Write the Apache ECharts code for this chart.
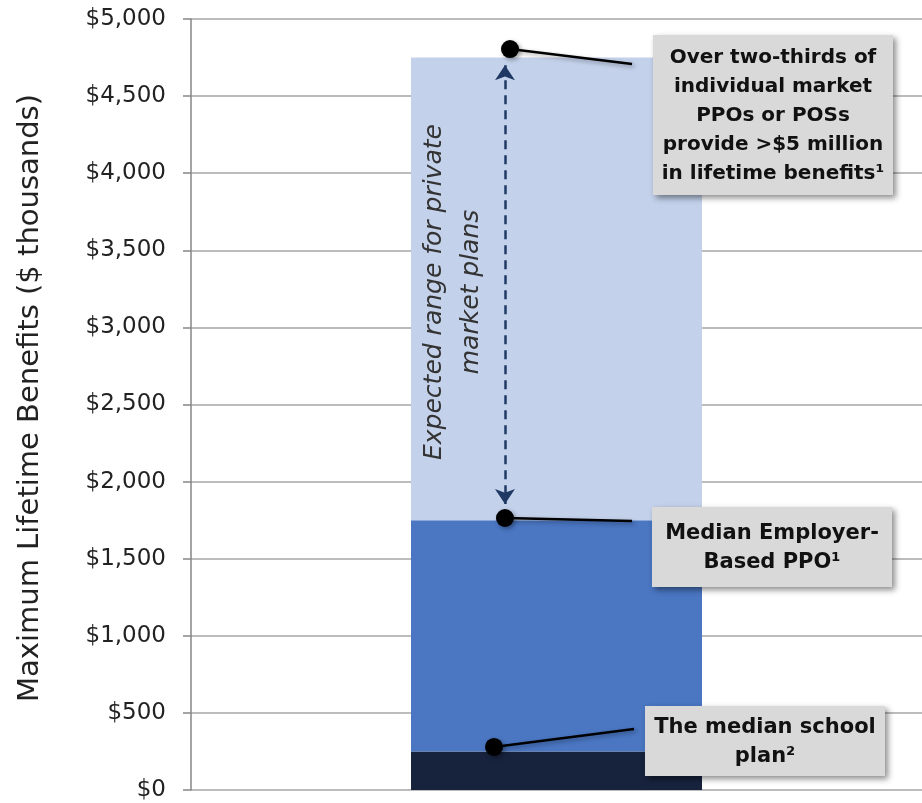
<!DOCTYPE html>
<html><head><meta charset="utf-8">
<script src="https://cdn.jsdelivr.net/npm/echarts@6/dist/echarts.min.js"></script>
<style>html,body{margin:0;padding:0;background:#fff}#c{width:922px;height:803px}</style>
</head><body><div id="c"></div>
<script>
// ---- data ----
const categories = [''];
const schoolPlan = [250];          // $0 – $250k
const employerPPO = [1500];        // $250k – $1,750k
const privateRange = [3000];       // $1,750k – $4,750k
const yTicks = [0, 500, 1000, 1500, 2000, 2500, 3000, 3500, 4000, 4500, 5000];
// annotation anchor points [x fraction of plot, value]
const dots = [[0.4364, 4805], [0.4295, 1764], [0.4145, 279]];
const leaderEnds = [[0.6033, 4708], [0.6033, 1745], [0.606, 396]];
const arrowRange = [[0.4295, 4700], [0.4295, 1855]];
const boxTexts = [
  'Over two-thirds of\nindividual market\nPPOs or POSs\nprovide >$5 million\nin lifetime benefits¹',
  'Median Employer-\nBased PPO¹',
  'The median school\nplan²'
];
const rangeText = 'Expected range for private\nmarket plans';
const yName = 'Maximum Lifetime Benefits ($ thousands)';

const FONT = '"DejaVu Sans", sans-serif';
const chart = echarts.init(document.getElementById('c'));

const boxes = [
  {x: 653, y: 35, w: 240, h: 160, fs: 20},
  {x: 652, y: 507, w: 240, h: 80, fs: 21},
  {x: 645, y: 706, w: 240, h: 70, fs: 21}
];
const graphics = [];
boxes.forEach((b, i) => {
  graphics.push({type: 'rect', z: 100, shape: {x: b.x, y: b.y, width: b.w, height: b.h},
    style: {fill: '#D9D9D9', shadowBlur: 6, shadowOffsetX: 3, shadowOffsetY: 3, shadowColor: 'rgba(0,0,0,0.45)'}});
  graphics.push({type: 'text', z: 101, x: b.x + b.w / 2, y: b.y + b.h / 2 + 1,
    style: {text: boxTexts[i], font: 'bold ' + b.fs + 'px ' + FONT, fill: '#111', align: 'center', verticalAlign: 'middle', lineHeight: 29}});
});
graphics.push({type: 'text', z: 50, x: 453, y: 292, rotation: Math.PI / 2,
  style: {text: rangeText, font: 'italic 25px ' + FONT, fill: '#333', align: 'center', verticalAlign: 'middle', lineHeight: 37}});
graphics.push({type: 'text', x: 30, y: 398, rotation: Math.PI / 2,
  style: {text: yName, font: '29px ' + FONT, fill: '#222', align: 'center', verticalAlign: 'middle'}});

chart.setOption({
  animation: false,
  grid: {left: 191, right: 0, top: 19, bottom: 13},
  xAxis: [
    {type: 'category', data: categories, axisLine: {show: false}, axisTick: {show: false}, axisLabel: {show: false}},
    {type: 'value', min: 0, max: 1, show: false}
  ],
  yAxis: {
    type: 'value', min: yTicks[0], max: yTicks[yTicks.length - 1], interval: 500,
    axisLine: {show: true, lineStyle: {color: '#868686', width: 1.5}},
    axisTick: {show: true, length: 8, lineStyle: {color: '#868686', width: 1.5}},
    splitLine: {lineStyle: {color: '#A6A6A6', width: 1.5}},
    axisLabel: {margin: 25, fontFamily: FONT, fontSize: 23, color: '#222',
      formatter: v => '$' + v.toLocaleString('en-US')}
  },
  series: [
    {type: 'bar', stack: 's', data: schoolPlan, barWidth: 291, itemStyle: {color: '#17233D'}},
    {type: 'bar', stack: 's', data: employerPPO, barWidth: 291, itemStyle: {color: '#4A76C2'}},
    {type: 'bar', stack: 's', data: privateRange, barWidth: 291, itemStyle: {color: '#C3D1EA'}},
    {type: 'lines', coordinateSystem: 'cartesian2d', xAxisIndex: 1, yAxisIndex: 0, z: 20,
      symbol: ['arrow', 'arrow'], symbolSize: 15,
      lineStyle: {color: '#1F3864', width: 2.5, type: [9, 6], opacity: 1},
      data: [{coords: arrowRange}]},
    {type: 'lines', coordinateSystem: 'cartesian2d', xAxisIndex: 1, yAxisIndex: 0, z: 30,
      lineStyle: {color: '#000', width: 2.5, opacity: 1, shadowBlur: 4, shadowOffsetX: 2, shadowOffsetY: 2, shadowColor: 'rgba(0,0,0,0.35)'},
      data: dots.map((d, i) => ({coords: [d, leaderEnds[i]]}))},
    {type: 'scatter', xAxisIndex: 1, yAxisIndex: 0, z: 40, symbolSize: 18,
      itemStyle: {color: '#000', opacity: 1, shadowBlur: 4, shadowOffsetX: 2, shadowOffsetY: 2, shadowColor: 'rgba(0,0,0,0.35)'},
      data: dots}
  ],
  graphic: graphics
});
</script></body></html>
